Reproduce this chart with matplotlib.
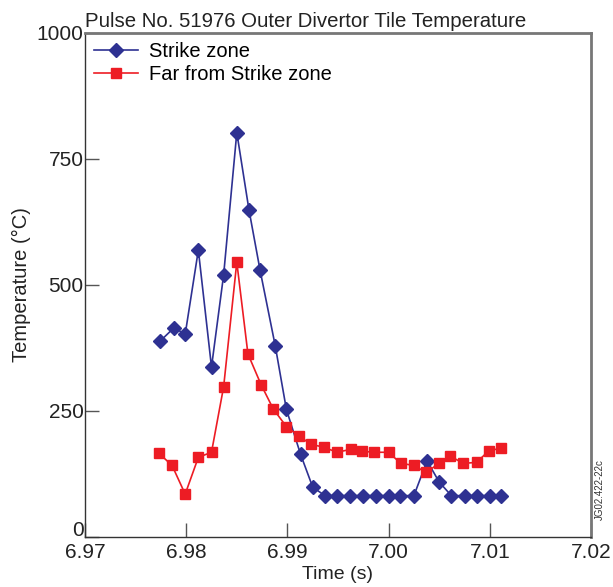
import matplotlib
matplotlib.use("Agg")
import matplotlib.pyplot as plt
import matplotlib.transforms as mtransforms

plt.rcParams['font.family'] = ['Liberation Sans', 'DejaVu Sans']

strike_t = [6.9774, 6.9788, 6.9799, 6.9812, 6.9825, 6.9837, 6.9850, 6.9862, 6.9873,
            6.9888, 6.9899, 6.9913, 6.9925, 6.9937, 6.9949, 6.9962, 6.9975, 6.9988,
            7.0000, 7.0011, 7.0025, 7.0038, 7.0050, 7.0062, 7.0075, 7.0087, 7.0100, 7.0111]
strike_T = [388, 415, 402, 569, 337, 520, 802, 649, 529,
            379, 253, 164, 99, 82, 82, 82, 82, 82,
            82, 82, 82, 151, 109, 82, 82, 82, 82, 82]

far_t = [6.9773, 6.9786, 6.9799, 6.9812, 6.9825, 6.9837, 6.9850, 6.9861, 6.9874,
         6.9886, 6.9899, 6.9911, 6.9923, 6.9936, 6.9949, 6.9963, 6.9974, 6.9986,
         7.0000, 7.0012, 7.0025, 7.0037, 7.0050, 7.0061, 7.0074, 7.0087, 7.0099, 7.0111]
far_T = [166, 142, 85, 158, 168, 298, 545, 363, 302,
         254, 219, 201, 184, 178, 168, 174, 170, 168,
         168, 146, 142, 128, 146, 160, 146, 148, 171, 176]

xticks = [6.97, 6.98, 6.99, 7.00, 7.01, 7.02]
xticklabels = ["6.97", "6.98", "6.99", "7.00", "7.01", "7.02"]
yticks = [0, 250, 500, 750, 1000]

blue = "#2e3192"
red = "#ed1c24"

fig = plt.figure(figsize=(6.13, 5.87), dpi=100)
ax = fig.add_axes([85/613, 1-537/587, (591-85)/613, (537-32.7)/587])

ax.plot(strike_t, strike_T, color=blue, marker='D', ms=7.5, lw=1.2, label="Strike zone")
ax.plot(far_t, far_T, color=red, marker='s', ms=7.5, lw=1.2, label="Far from Strike zone")

ax.set_xlim(6.97, 7.02)
ax.set_ylim(0, 1000)
ax.set_xticks(xticks)
ax.set_xticklabels(xticklabels)
ax.set_yticks(yticks)
ax.tick_params(axis='both', direction='in', length=10, width=1, colors='#555555',
               labelcolor='#222222', labelsize=15)
ax.tick_params(axis='x', pad=4)
ax.tick_params(axis='y', pad=1)
for s in ['left', 'bottom']:
    ax.spines[s].set_color('#333333')
    ax.spines[s].set_linewidth(1.0)
for s in ['top', 'right']:
    ax.spines[s].set_color('#777777')
    ax.spines[s].set_linewidth(2.0)

# nudge the "0" label up a little, as in the reference
zero_lab = ax.yaxis.get_major_ticks()[0].label1
zero_lab.set_transform(zero_lab.get_transform() +
                       mtransforms.ScaledTranslation(0, 6/72, fig.dpi_scale_trans))

ax.set_xlabel("Time (s)", fontsize=14, color='#222222', labelpad=3)
ax.set_ylabel("Temperature (°C)", fontsize=14.5, color='#222222', labelpad=4)
ax.set_title("Pulse No. 51976 Outer Divertor Tile Temperature", fontsize=14.7,
             loc='left', color='#222222', pad=4)

leg = ax.legend(loc='upper left', frameon=False, fontsize=14.5, handlelength=2.2,
                borderaxespad=0.05, labelspacing=0.2, handletextpad=0.55)

fig.text(600/613, 1-490/587, "JG02.422-22c", rotation=90, fontsize=7,
         ha='center', va='center', color='#333333')

fig.savefig("out.png", dpi=100)
